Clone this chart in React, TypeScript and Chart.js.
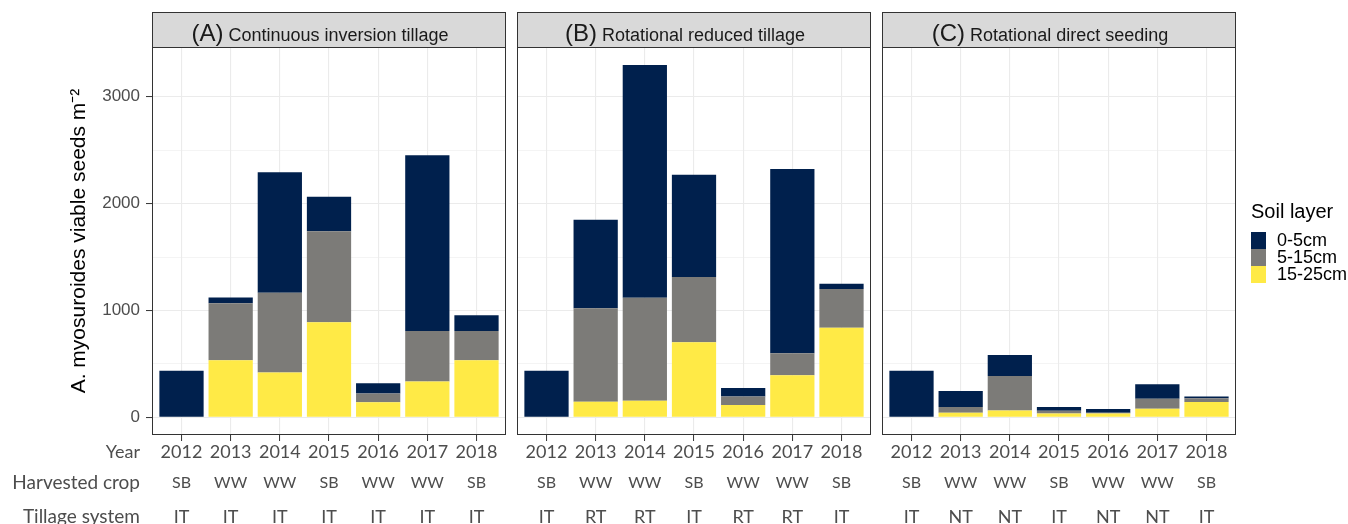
import { useEffect, useRef } from 'react';
import { Chart, registerables } from 'chart.js';

Chart.register(...registerables);

// ---------- data ----------
const years = [2012, 2013, 2014, 2015, 2016, 2017, 2018];
const harvestedCrop = ['SB', 'WW', 'WW', 'SB', 'WW', 'WW', 'SB'];
const tillageA = ['IT', 'IT', 'IT', 'IT', 'IT', 'IT', 'IT'];
const tillageB = ['IT', 'RT', 'RT', 'IT', 'RT', 'RT', 'IT'];
const tillageC = ['IT', 'NT', 'NT', 'IT', 'NT', 'NT', 'IT'];

const layerNames = ['0-5cm', '5-15cm', '15-25cm'];
const layerColors = ['#00204D', '#7C7B78', '#FFEA46'];

// Panel A: Continuous inversion tillage
const panelA_0_5 = [435, 53, 1127, 322, 96, 1643, 147];
const panelA_5_15 = [0, 533, 748, 851, 81, 474, 274];
const panelA_15_25 = [0, 535, 419, 890, 142, 335, 535];

// Panel B: Rotational reduced tillage
const panelB_0_5 = [437, 829, 2177, 957, 79, 1725, 50];
const panelB_5_15 = [0, 873, 964, 611, 80, 206, 362];
const panelB_15_25 = [0, 147, 156, 702, 116, 393, 839];

// Panel C: Rotational direct seeding
const panelC_0_5 = [437, 150, 197, 34, 35, 134, 18];
const panelC_5_15 = [0, 53, 322, 28, 9, 94, 34];
const panelC_15_25 = [0, 44, 65, 35, 35, 81, 144];

const yTicks = [0, 500, 1000, 1500, 2000, 2500, 3000];
const yMin = -165;
const yMax = 3465;

const rowLabels = ['Year', 'Harvested crop', 'Tillage system'];
const yTitle = 'A. myosuroides viable seeds m\u207B\u00B2';
const legendTitle = 'Soil layer';

// ---------- styling ----------
const SANS = "'Liberation Sans', Arial, sans-serif";
const CAL = "Lato, 'Open Sans', sans-serif";
const GRID = '#EBEBEB';
const DARK = '#333333';
const TXT = '#4D4D4D';

const facetPlugin = {
  id: 'facet',
  afterDraw(chart: any, _args: any, opts: any) {
    const { ctx, chartArea: ca } = chart;
    const xs = chart.scales.x;
    ctx.save();
    // strip
    const stripH = 35;
    const L = Math.round(ca.left) + 0.5;
    const R = Math.round(ca.right) - 0.5;
    const T = Math.round(ca.top) + 0.5;
    const B = Math.round(ca.bottom) - 0.5;
    ctx.fillStyle = '#D9D9D9';
    ctx.fillRect(L, T - stripH, R - L, stripH);
    ctx.strokeStyle = DARK;
    ctx.lineWidth = 1;
    ctx.strokeRect(L, T - stripH, R - L, stripH);
    // panel border
    ctx.strokeRect(L, T, R - L, B - T);

    // strip text
    const lead = opts.letter;
    const rest = ' ' + opts.title;
    ctx.font = `24px ${SANS}`;
    const w1 = ctx.measureText(lead).width;
    ctx.font = `18px ${SANS}`;
    const w2 = ctx.measureText(rest).width;
    const cx = (ca.left + ca.right) / 2 - 9;
    const sx = cx - (w1 + w2) / 2;
    ctx.fillStyle = '#1A1A1A';
    ctx.textAlign = 'left';
    ctx.textBaseline = 'alphabetic';
    ctx.font = `24px ${SANS}`;
    ctx.fillText(lead, sx, 41);
    ctx.font = `18px ${SANS}`;
    ctx.fillText(rest, sx + w1, 41);

    // x rows
    ctx.fillStyle = TXT;
    ctx.textAlign = 'center';
    years.forEach((yr, i) => {
      const px = xs.getPixelForValue(yr);
      ctx.font = `18px ${CAL}`;
      ctx.fillText(String(yr), px, 458);
      ctx.font = `16px ${CAL}`;
      ctx.fillText(harvestedCrop[i], px, 488);
      ctx.font = `18px ${CAL}`;
      ctx.fillText(opts.tillage[i], px, 523);
    });

    if (opts.rowLabels) {
      ctx.textAlign = 'right';
      ctx.font = `18px ${CAL}`;
      ctx.fillText(rowLabels[0], 140, 458);
      ctx.font = `19px ${CAL}`;
      ctx.fillText(rowLabels[1], 140, 489);
      ctx.fillText(rowLabels[2], 140, 523);
    }

    if (opts.legend) {
      const lx = ca.right + 15;
      ctx.textAlign = 'left';
      ctx.fillStyle = '#000';
      ctx.font = `20px ${SANS}`;
      ctx.fillText(legendTitle, lx, 218);
      ctx.font = `18px ${SANS}`;
      ctx.textBaseline = 'middle';
      layerNames.forEach((name, i) => {
        const ds = chart.data.datasets.find((d: any) => d.label === name);
        const ky = 232 + i * 17;
        ctx.fillStyle = ds ? ds.backgroundColor : layerColors[i];
        ctx.fillRect(lx, ky, 15, 17);
        ctx.fillStyle = '#000';
        ctx.fillText(name, lx + 26, ky + 9);
      });
    }
    ctx.restore();
  },
};

type Panel = {
  letter: string;
  title: string;
  tillage: string[];
  d0: number[];
  d1: number[];
  d2: number[];
  left: number;
  width: number;
  padL: number;
  padR: number;
  axis: boolean;
  legend: boolean;
};

const panels: Panel[] = [
  { letter: '(A)', title: 'Continuous inversion tillage', tillage: tillageA, d0: panelA_0_5, d1: panelA_5_15, d2: panelA_15_25, left: 0, width: 512, padL: 0, padR: 6, axis: true, legend: false },
  { letter: '(B)', title: 'Rotational reduced tillage', tillage: tillageB, d0: panelB_0_5, d1: panelB_5_15, d2: panelB_15_25, left: 512, width: 365, padL: 5, padR: 6, axis: false, legend: false },
  { letter: '(C)', title: 'Rotational direct seeding', tillage: tillageC, d0: panelC_0_5, d1: panelC_5_15, d2: panelC_15_25, left: 877, width: 471, padL: 5, padR: 112, axis: false, legend: true },
];

function makeChart(canvas: HTMLCanvasElement, p: Panel) {
  const isMajor = (v: number) => v % 1000 === 0;
  return new Chart(canvas, {
    type: 'bar',
    data: {
      labels: years,
      datasets: [
        { label: layerNames[2], data: p.d2, backgroundColor: layerColors[2] },
        { label: layerNames[1], data: p.d1, backgroundColor: layerColors[1] },
        { label: layerNames[0], data: p.d0, backgroundColor: layerColors[0] },
      ],
    },
    options: {
      responsive: false,
      maintainAspectRatio: false,
      animation: false,
      devicePixelRatio: 1,
      categoryPercentage: 1,
      barPercentage: 0.9,
      layout: { padding: { top: 47, bottom: 89, left: p.padL, right: p.padR } },
      plugins: {
        legend: { display: false },
        tooltip: { enabled: false },
        facet: { letter: p.letter, title: p.title, tillage: p.tillage, rowLabels: p.axis, legend: p.legend },
      },
      scales: {
        x: {
          type: 'linear',
          stacked: true,
          offset: false,
          min: years[0] - 0.6,
          max: years[years.length - 1] + 0.6,
          afterBuildTicks: (s: any) => { s.ticks = years.map((v) => ({ value: v })); },
          afterFit: (s: any) => { s.height = 0; },
          ticks: { display: false },
          grid: { offset: false, color: GRID, lineWidth: 1.1, drawTicks: true, tickLength: 6, tickColor: DARK, tickWidth: 1 },
          border: { display: false },
        },
        y: {
          type: 'linear',
          stacked: true,
          min: yMin,
          max: yMax,
          afterBuildTicks: (s: any) => { s.ticks = yTicks.map((v) => ({ value: v })); },
          afterFit: (s: any) => { s.width = p.axis ? 152 : 0; },
          ticks: {
            display: p.axis,
            padding: 6,
            color: TXT,
            font: { family: SANS, size: 17 },
            callback: (v: any) => (isMajor(Number(v)) ? String(v) : ''),
          },
          grid: {
            color: GRID,
            lineWidth: (c: any) => (c.tick && isMajor(c.tick.value) ? 1.1 : 0.55),
            drawTicks: p.axis,
            tickLength: 6,
            tickWidth: 1,
            tickColor: (c: any) => (c.tick && isMajor(c.tick.value) ? DARK : 'rgba(0,0,0,0)'),
          },
          border: { display: false },
          title: {
            display: p.axis,
            text: yTitle,
            color: '#000',
            font: { family: SANS, size: 21 },
            padding: { top: 67, bottom: 0 },
          },
        },
      },
    } as any,
    plugins: [facetPlugin as any],
  });
}

export default function App() {
  const refs = useRef<(HTMLCanvasElement | null)[]>([]);
  useEffect(() => {
    const charts = panels.map((p, i) => makeChart(refs.current[i] as HTMLCanvasElement, p));
    return () => charts.forEach((c) => c.destroy());
  }, []);
  return (
    <div style={{ position: 'absolute', left: 0, top: 0, width: 1348, height: 524, background: '#fff', overflow: 'hidden' }}>
      {panels.map((p, i) => (
        <canvas
          key={p.letter}
          ref={(el) => { refs.current[i] = el; }}
          width={p.width}
          height={524}
          style={{ position: 'absolute', left: p.left, top: 0, width: p.width, height: 524 }}
        />
      ))}
    </div>
  );
}
